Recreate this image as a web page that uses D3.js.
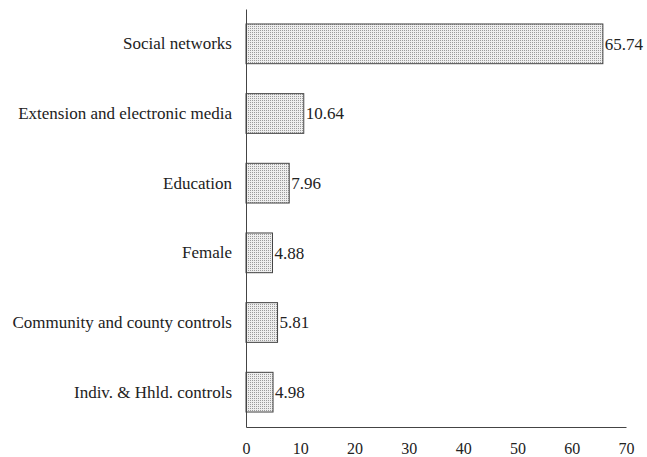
<!DOCTYPE html>
<html>
<head>
<meta charset="utf-8">
<script src="https://cdn.jsdelivr.net/npm/d3@7"></script>
<style>
  body { margin: 0; background: #fff; }
  svg text { font-family: "Liberation Serif", Tinos, "Times New Roman", Times, "DejaVu Serif", serif; fill: #222; }
</style>
</head>
<body>
<div id="viz"></div>
<script>
const width = 647;
const height = 457;
const margin = {top: 9, right: 21, bottom: 30, left: 246};
const fontStack = '"Liberation Serif", Tinos, "Times New Roman", Times, "DejaVu Serif", serif';

// Data
const categories = [
  'Social networks',
  'Extension and electronic media',
  'Education',
  'Female',
  'Community and county controls',
  'Indiv. & Hhld. controls'
];
const values = [65.74, 10.64, 7.96, 4.88, 5.81, 4.98];
const xTicks = [0, 10, 20, 30, 40, 50, 60, 70];

const data = categories.map((c, i) => ({ label: c, value: values[i] }));

const svg = d3.select('#viz')
  .append('svg')
    .attr('width', width)
    .attr('height', height);

// dotted fill pattern
const defs = svg.append('defs');
const pattern = defs.append('pattern')
  .attr('id', 'dots')
  .attr('patternUnits', 'userSpaceOnUse')
  .attr('width', 2)
  .attr('height', 2);
pattern.append('rect')
  .attr('width', 2).attr('height', 2)
  .attr('fill', '#eeeeee');
pattern.append('rect')
  .attr('width', 1).attr('height', 1)
  .attr('fill', '#9a9a9a');

const xScale = d3.scaleLinear()
  .domain([0, 70])
  .range([margin.left, width - margin.right]);

const yScale = d3.scaleBand()
  .domain(categories)
  .range([margin.top, height - margin.bottom])
  .paddingInner(0.43)
  .paddingOuter(0.215);

// bars
svg.append('g')
    .attr('class', 'bars')
  .selectAll('rect')
  .data(data)
  .join('rect')
    .attr('x', xScale(0))
    .attr('y', d => yScale(d.label))
    .attr('width', d => xScale(d.value) - xScale(0))
    .attr('height', yScale.bandwidth())
    .attr('fill', 'url(#dots)')
    .attr('stroke', '#444')
    .attr('stroke-width', 1);

// value labels
svg.append('g')
    .attr('class', 'value-labels')
  .selectAll('text')
  .data(data)
  .join('text')
    .attr('x', d => xScale(d.value) + 2)
    .attr('y', d => yScale(d.label) + yScale.bandwidth() / 2)
    .attr('dy', '0.35em')
    .style('font-size', '17px')
    .style('font-family', fontStack)
    .text(d => d.value.toFixed(2));

// x axis
const xAxis = d3.axisBottom(xScale)
  .tickValues(xTicks)
  .tickSize(0)
  .tickPadding(16);

const xAxisGroup = svg.append('g')
    .attr('class', 'x-axis-group')
    .attr('transform', `translate(0, ${height - margin.bottom})`)
  .call(xAxis);
xAxisGroup.attr('font-family', fontStack);
xAxisGroup.select('.domain').attr('stroke', '#444');
xAxisGroup.selectAll('text')
  .style('font-size', '16px')
  .style('font-family', fontStack)
  .attr('fill', '#222');

// y axis
const yAxis = d3.axisLeft(yScale)
  .tickSize(0)
  .tickPadding(14);

const yAxisGroup = svg.append('g')
    .attr('class', 'y-axis-group')
    .attr('transform', `translate(${margin.left}, 0)`)
  .call(yAxis);
yAxisGroup.attr('font-family', fontStack);
yAxisGroup.select('.domain').attr('stroke', '#444');
yAxisGroup.selectAll('text')
  .style('font-size', '17px')
  .style('font-family', fontStack)
  .attr('fill', '#222');
</script>
</body>
</html>
